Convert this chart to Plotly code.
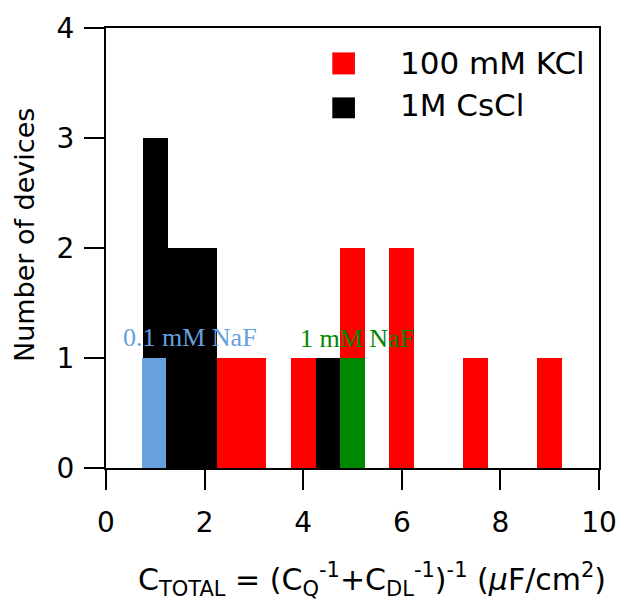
import plotly.graph_objects as go

# Data (bin centers, counts)
kcl_x = [2.5, 3.0, 4.0, 5.0, 6.0, 7.5, 9.0]
kcl_n = [1, 1, 1, 2, 2, 1, 1]
cscl_x = [1.0, 1.5, 2.0, 4.5]
cscl_n = [3, 2, 2, 1]
naf01_x = [0.97]
naf01_n = [1]
naf1_x = [5.0]
naf1_n = [1]

RED = "#FF0000"
BLACK = "#000000"
BLUE = "#66A0DE"
GREEN = "#008800"
BAR_W = 0.5
SANS = "DejaVu Sans"
SERIF = "Liberation Serif"

fig = go.Figure()
for name, xs, ns, col in [
    ("100 mM KCl", kcl_x, kcl_n, RED),
    ("1M CsCl", cscl_x, cscl_n, BLACK),
    ("0.1 mM NaF", naf01_x, naf01_n, BLUE),
    ("1 mM NaF", naf1_x, naf1_n, GREEN),
]:
    fig.add_trace(go.Bar(x=xs, y=ns, name=name, width=BAR_W,
                         marker=dict(color=col, line=dict(width=0)),
                         opacity=1, showlegend=False))

axis_common = dict(showline=True, linewidth=2, linecolor="black", mirror=True,
                   ticks="outside", ticklen=20, tickwidth=2, tickcolor="black",
                   showgrid=False, zeroline=False,
                   tickfont=dict(family=SANS, size=28, color="black"))
fig.update_xaxes(range=[0, 10], dtick=2, tick0=0, ticklabelstandoff=8, **axis_common)
fig.update_yaxes(range=[0, 4], dtick=1, tick0=0, ticklabelstandoff=4, **axis_common)

fig.add_annotation(x=0.31, y=1.19, xref="x", yref="y", text="0.1 mM NaF", showarrow=False,
                   xanchor="left", yanchor="middle", font=dict(family=SERIF, size=26, color=BLUE))
fig.add_annotation(x=3.89, y=1.18, xref="x", yref="y", text="1 mM NaF", showarrow=False,
                   xanchor="left", yanchor="middle", font=dict(family=SERIF, size=26, color=GREEN))
# manual legend text
fig.add_annotation(x=5.93, y=3.678, xref="x", yref="y", text="100 mM KCl", showarrow=False,
                   xanchor="left", yanchor="middle", font=dict(family=SANS, size=31, color="black"))
fig.add_annotation(x=5.93, y=3.30, xref="x", yref="y", text="1M CsCl", showarrow=False,
                   xanchor="left", yanchor="middle", font=dict(family=SANS, size=31, color="black"))
# axis titles
fig.add_annotation(x=(375.5 - 106) / 499, y=-(580 - 468) / 441, xref="paper", yref="paper",
                   text="C<sub>TOTAL</sub> = (C<sub>Q</sub><sup>-1</sup>+C<sub>DL</sub><sup>-1</sup>)<sup>-1</sup> (<i>μ</i>F/cm<sup>2</sup>)",
                   showarrow=False, xanchor="center", yanchor="middle",
                   font=dict(family=SANS, size=30, color="black"))
fig.add_annotation(x=-(106 - 23) / 499, y=(468 - 234.5) / 441, xref="paper", yref="paper",
                   text="Number of devices", textangle=-90, showarrow=False,
                   xanchor="center", yanchor="middle",
                   font=dict(family=SANS, size=27, color="black"))

# manual legend symbols
fig.add_shape(type="rect", xref="x", yref="y", x0=4.59, x1=5.05, y0=3.578, y1=3.778,
              fillcolor=RED, line=dict(width=0))
fig.add_shape(type="rect", xref="x", yref="y", x0=4.59, x1=5.05, y0=3.179, y1=3.369,
              fillcolor=BLACK, line=dict(width=0))

fig.update_layout(
    barmode="overlay", bargap=0, bargroupgap=0,
    width=629, height=601,
    margin=dict(l=106, r=24, t=27, b=133),
    paper_bgcolor="white", plot_bgcolor="white",
    showlegend=False,
)
fig.write_html("out.html")
